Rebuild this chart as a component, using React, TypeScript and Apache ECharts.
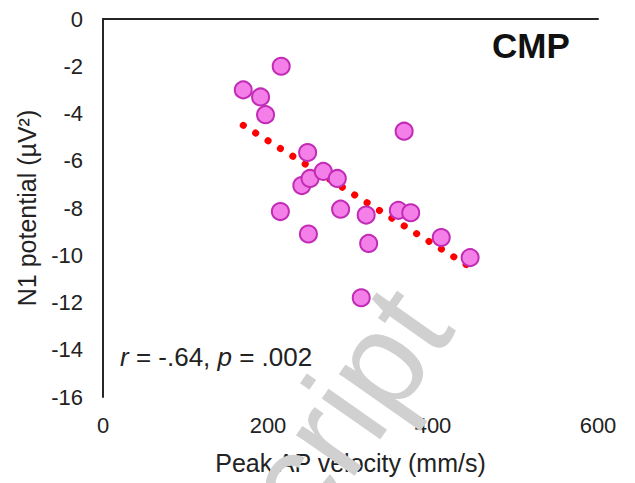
import React, { useEffect, useRef } from "react";
import * as echarts from "echarts";

// Peak AP velocity (mm/s) and N1 potential (µV²), one entry per participant
const velocity = [170, 216, 191, 197, 248, 241, 251, 215, 249, 365, 267, 284, 288, 319, 358, 373, 410, 322, 445, 313];
const n1 = [-3.0, -2.0, -3.3, -4.05, -5.65, -7.05, -6.75, -8.15, -9.1, -4.75, -6.45, -6.75, -8.05, -8.3, -8.1, -8.2, -9.25, -9.5, -10.1, -11.8];

// linear trend line end points
const trendX = [170, 445];
const trendY = [-4.5, -10.5];

const xMin = 0, xMax = 600, xStep = 200;
const yMin = -16, yMax = 0, yStep = 2;

const panelLabel = "CMP";
const statsText = { r: "-.64", p: ".002" };

export default function App() {
  const ref = useRef<HTMLDivElement>(null);
  useEffect(() => {
    if (!ref.current) return;
    const chart = echarts.init(ref.current, null, { renderer: "svg" });
    const font = "Liberation Sans, Arial, sans-serif";
    const ink = "#222222";
    chart.setOption({
      animation: false,
      backgroundColor: "#ffffff",
      textStyle: { fontFamily: font },
      grid: { left: 103, right: 37, top: 19, bottom: 86, containLabel: false },
      xAxis: [
        {
          type: "value",
          position: "bottom",
          min: xMin,
          max: xMax,
          interval: xStep,
          axisLine: { show: false },
          axisTick: { show: false },
          splitLine: { show: false },
          axisLabel: { fontSize: 22, color: ink, margin: 17, fontFamily: font },
          name: "Peak AP velocity (mm/s)",
          nameLocation: "middle",
          nameGap: 53,
          nameTextStyle: { fontSize: 25, color: ink, fontFamily: font },
        },
        {
          type: "value",
          position: "top",
          min: xMin,
          max: xMax,
          interval: xStep,
          axisLine: { show: true, lineStyle: { color: "#262626", width: 2 } },
          axisTick: { show: false },
          splitLine: { show: false },
          axisLabel: { show: false },
        },
      ],
      yAxis: {
        type: "value",
        min: yMin,
        max: yMax,
        interval: yStep,
        axisLine: { show: true, onZero: false, lineStyle: { color: "#262626", width: 2 } },
        axisTick: { show: false },
        splitLine: { show: false },
        axisLabel: { fontSize: 22, color: ink, margin: 20, fontFamily: font },
        name: "N1 potential (µV²)",
        nameLocation: "middle",
        nameRotate: 90,
        nameGap: 64,
        nameTextStyle: { fontSize: 25, color: ink, fontFamily: font },
      },
      series: [
        {
          type: "line",
          xAxisIndex: 0,
          data: trendX.map((x, i) => [x, trendY[i]]),
          symbol: "none",
          lineStyle: { color: "#ff0000", width: 7, type: [0.1, 14.5], cap: "round" },
          z: 2,
        },
        {
          type: "scatter",
          xAxisIndex: 0,
          data: velocity.map((v, i) => [v, n1[i]]),
          symbol: "circle",
          symbolSize: 17,
          itemStyle: { color: "#f57fe8", borderColor: "#c22bb5", borderWidth: 2, opacity: 1 },
          z: 3,
        },
      ],
      graphic: [
        {
          type: "text",
          left: 492,
          top: 28,
          style: { text: panelLabel, fontSize: 35, fontWeight: "bold", fill: "#111", fontFamily: font },
        },
        {
          type: "text",
          x: 120,
          y: 357,
          style: {
            text: `{i|r} = ${statsText.r}, {i|p} = ${statsText.p}`,
            fontSize: 26,
            fill: ink,
            fontFamily: font,
            verticalAlign: "middle",
            rich: { i: { fontStyle: "italic", fontSize: 26, fill: ink, fontFamily: font } },
          },
        },
        {
          type: "text",
          x: 474,
          y: 342,
          rotation: (55 * Math.PI) / 180,
          z: 100,
          style: {
            text: "Manuscript",
            fontSize: 135,
            fill: "#d0d0d0",
            fontFamily: font,
            align: "right",
            verticalAlign: "bottom",
          },
        },
      ],
    });
    return () => chart.dispose();
  }, []);
  return <div ref={ref} style={{ position: "absolute", left: 0, top: 0, width: 635, height: 483 }} />;
}
